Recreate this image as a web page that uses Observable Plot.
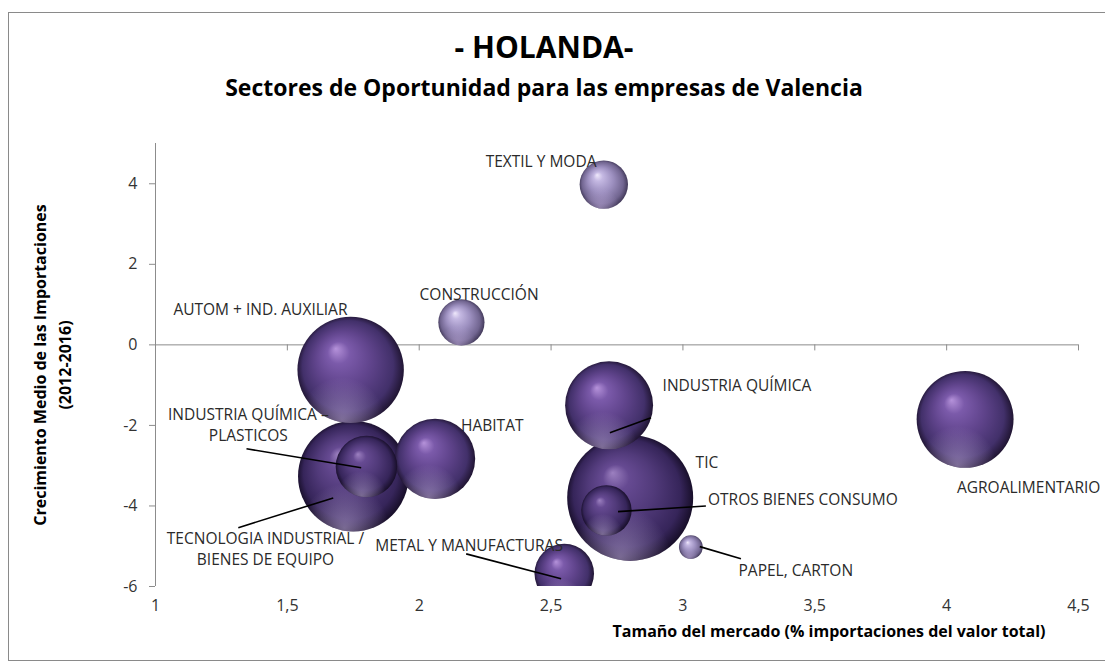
<!DOCTYPE html>
<html><head><meta charset="utf-8">
<script src="https://cdn.jsdelivr.net/npm/d3@7"></script>
<script src="https://cdn.jsdelivr.net/npm/@observablehq/plot@0.6"></script>
<style>
body{margin:0;background:#fff;font-family:"Open Sans",sans-serif;}
#wrap{position:relative;width:1105px;height:662px;overflow:hidden;background:#fff;}
#box{position:absolute;left:8px;top:12px;width:1110px;height:649px;border:1.5px solid #8a8a8a;box-sizing:border-box;}
.t{position:absolute;left:0;width:1088px;text-align:center;font-weight:bold;color:#000;white-space:nowrap;}
#title{top:32px;font-size:30px;line-height:30px;}
#sub{top:76px;font-size:23px;line-height:23px;}
#chart{position:absolute;left:0;top:0;}
</style></head><body>
<div id="wrap"><div id="box"></div><div id="chart"></div>
<div class="t" id="title">- HOLANDA-</div>
<div class="t" id="sub">Sectores de Oportunidad para las empresas de Valencia</div></div>
<script>
// ---- data ----
const sectors = ["TEXTIL Y MODA","CONSTRUCCIÓN","AUTOM + IND. AUXILIAR","TECNOLOGIA INDUSTRIAL / BIENES DE EQUIPO","INDUSTRIA QUÍMICA – PLASTICOS","HABITAT","INDUSTRIA QUÍMICA","TIC","OTROS BIENES CONSUMO","METAL Y MANUFACTURAS","PAPEL, CARTON","AGROALIMENTARIO"];
const marketSize = [2.70, 2.16, 1.74, 1.75, 1.80, 2.06, 2.72, 2.80, 2.71, 2.55, 3.03, 4.07];
const growth     = [3.98, 0.56, -0.62, -3.26, -3.02, -2.83, -1.50, -3.80, -4.11, -5.68, -5.02, -1.85];
const bubbleSize = [5.8, 5.3, 28.1, 30.3, 9.4, 16.0, 19.2, 39.4, 6.3, 8.8, 1.4, 23.3];
const xTicks = [1, 1.5, 2, 2.5, 3, 3.5, 4, 4.5];
const yTicks = [-6, -4, -2, 0, 2, 4];
const xTitle = "Tamaño del mercado (% importaciones del valor total)";
const yTitle = "Crecimiento Medio de las Importaciones\n(2012-2016)";

// label annotations (data units)
const labelText = ["TEXTIL Y MODA","CONSTRUCCIÓN","AUTOM + IND. AUXILIAR","TECNOLOGIA INDUSTRIAL /\nBIENES DE EQUIPO","INDUSTRIA QUÍMICA –\nPLASTICOS","HABITAT","INDUSTRIA QUÍMICA","TIC","OTROS BIENES CONSUMO","METAL Y MANUFACTURAS","PAPEL, CARTON","AGROALIMENTARIO"];
const labelX = [2.462, 2.227, 1.398, 1.417, 1.352, 2.277, 3.205, 3.091, 3.455, 2.189, 3.428, 4.311];
const labelY = [4.59, 1.27, 0.92, -5.05, -1.97, -1.96, -0.97, -2.88, -3.82, -4.94, -5.58, -3.50];
// leader lines: [sector index, x1, y1, x2, y2]
const leaders = [
  [6, 2.879, -1.81, 2.723, -2.18],
  [4, 1.345, -2.58, 1.780, -3.05],
  [3, 1.314, -4.54, 1.674, -3.80],
  [9, 2.178, -5.19, 2.538, -5.81],
  [8, 3.087, -4.00, 2.754, -4.14],
  [10, 3.064, -5.01, 3.220, -5.31]
];

// ---- styles ----
const tone = {"TEXTIL Y MODA":"light","CONSTRUCCIÓN":"light","PAPEL, CARTON":"light",
  "TIC":"dark","TECNOLOGIA INDUSTRIAL / BIENES DE EQUIPO":"dark","OTROS BIENES CONSUMO":"dark","INDUSTRIA QUÍMICA – PLASTICOS":"dark"};

const bubbles = sectors.map((s, i) => ({sector: s, x: marketSize[i], y: growth[i], size: bubbleSize[i], tone: tone[s] || "mid"}));
const labels = labelText.map((t, i) => ({text: t, x: labelX[i], y: labelY[i]}));
const links = leaders.map(([i, x1, y1, x2, y2]) => ({x1, y1, x2, y2}));

const plot = Plot.plot({
  width: 1105, height: 662,
  marginLeft: 155, marginRight: 27, marginTop: 143, marginBottom: 76,
  style: {fontFamily: "Open Sans", background: "transparent", overflow: "visible"},
  x: {domain: [1, 4.5]},
  y: {domain: [-6, 5]},
  r: {domain: [0, 39.4], range: [0, 63]},
  color: {type: "ordinal", domain: ["light", "mid", "dark"], range: ["url(#g-light)", "url(#g-mid)", "url(#g-dark)"]},
  marks: [
    Plot.ruleX([1], {y1: -6, y2: 5, stroke: "#8c8c8c"}),
    Plot.ruleY([0], {x1: 1, x2: 4.5, stroke: "#8c8c8c"}),
    Plot.ruleX(xTicks.filter(d => d > 1), {x: d => d, y1: 0, y2: -0.15, stroke: "#8c8c8c"}),
    Plot.axisY({ticks: yTicks, tickSize: 6, tickPadding: 12, stroke: "#8c8c8c", fill: "#333", fontSize: 16, tickFormat: d => String(d), label: null}),
    Plot.axisX({ticks: xTicks, tickSize: 0, tickPadding: 13, fill: "#333", fontSize: 16, tickFormat: d => String(d).replace(".", ","), label: null}),
    Plot.text([yTitle], {frameAnchor: "left", textAnchor: "middle", rotate: -90, dx: -105, fontSize: 16, fontWeight: "bold", fill: "#000", lineHeight: 1.56}),
    Plot.text([xTitle], {frameAnchor: "bottom-right", textAnchor: "end", dx: -33, dy: 50, fontSize: 16, fontWeight: "bold", fill: "#000"}),
    Plot.dot(bubbles, {x: "x", y: "y", r: "size", fill: "tone", stroke: null, clip: true}),
    Plot.link(links, {x1: "x1", y1: "y1", x2: "x2", y2: "y2", stroke: "#000", strokeWidth: 1.6}),
    Plot.text(labels, {x: "x", y: "y", text: "text", fontSize: 15.5, fill: "#2a2a2a", lineHeight: 1.35})
  ]
});

// gradients for the 3D sphere look
const svg = d3.select(plot);
const defs = svg.insert("defs", ":first-child");
function radial(id, attrs, stops) {
  const g = defs.append("radialGradient").attr("id", id);
  for (const [k, v] of Object.entries(attrs)) g.attr(k, v);
  for (const [o, c, a] of stops) g.append("stop").attr("offset", o).attr("stop-color", c).attr("stop-opacity", a == null ? 1 : a);
}
const base = {cx: "50%", cy: "50%", r: "52%", fx: "36%", fy: "30%"};
radial("g-light", base, [["0%", "#efe8fb"], ["18%", "#c4b8e2"], ["50%", "#9d90c0"], ["82%", "#716590"], ["100%", "#3a3250"]]);
radial("g-mid", base, [["0%", "#b592da"], ["20%", "#7b5aaa"], ["50%", "#60448c"], ["82%", "#42306a"], ["100%", "#1a1028"]]);
radial("g-dark", base, [["0%", "#9c80c0"], ["20%", "#664a92"], ["50%", "#513a7a"], ["82%", "#36255a"], ["100%", "#120a20"]]);
radial("g-shine", {cx: "42%", cy: "97%", r: "40%"}, [["0%", "#c3b0e0", 0.55], ["100%", "#c3b0e0", 0]]);

svg.selectAll('g[aria-label="dot"] circle').each(function() {
  const c = this.cloneNode(false);
  c.setAttribute("fill", "url(#g-shine)");
  this.parentNode.insertBefore(c, this.nextSibling);
});

document.getElementById("chart").appendChild(plot);
</script>
</body></html>
